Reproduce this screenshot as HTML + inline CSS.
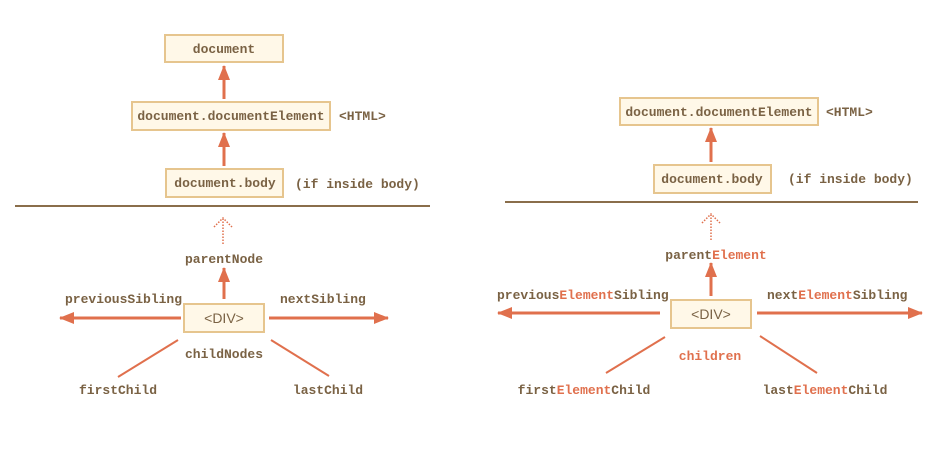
<!DOCTYPE html>
<html><head><meta charset="utf-8"><style>
html,body{margin:0;padding:0;background:#fff;}
svg text{font-family:"Liberation Mono",monospace;font-weight:bold;font-size:13px;fill:#7a6244;}
.o{fill:#e0704d;}
.s{font-family:"Liberation Sans",sans-serif;font-weight:normal;font-size:14px;}
</style></head><body>
<svg width="948" height="447" viewBox="0 0 948 447" xmlns="http://www.w3.org/2000/svg">
<defs>
<marker id="a" markerWidth="15" markerHeight="12" refX="14" refY="6" orient="auto" markerUnits="userSpaceOnUse"><path d="M0,0 L15,6 L0,12 z" fill="#e0704d"/></marker>
</defs>
<g fill="#fff8e8" stroke="#e6c58e" stroke-width="2">
<rect x="165" y="35" width="118" height="27"/>
<rect x="132" y="102" width="198" height="28"/>
<rect x="166" y="169" width="117" height="28"/>
<rect x="184" y="304" width="80" height="28"/>
<rect x="620" y="98" width="198" height="27"/>
<rect x="654" y="165" width="117" height="28"/>
<rect x="671" y="300" width="80" height="28"/>
</g>
<g stroke="#e0704d" stroke-width="3" fill="none">
<line x1="224" y1="99" x2="224" y2="66" marker-end="url(#a)"/>
<line x1="224" y1="166" x2="224" y2="133" marker-end="url(#a)"/>
<line x1="224" y1="299" x2="224" y2="268" marker-end="url(#a)"/>
<line x1="181" y1="318" x2="60" y2="318" marker-end="url(#a)"/>
<line x1="269" y1="318" x2="388" y2="318" marker-end="url(#a)"/>
<line x1="711" y1="162" x2="711" y2="128" marker-end="url(#a)"/>
<line x1="711" y1="296" x2="711" y2="263" marker-end="url(#a)"/>
<line x1="660" y1="313" x2="498" y2="313" marker-end="url(#a)"/>
<line x1="757" y1="313" x2="922" y2="313" marker-end="url(#a)"/>
</g>
<g stroke="#e0704d" stroke-width="2">
<line x1="178" y1="340" x2="118" y2="377"/>
<line x1="271" y1="340" x2="329" y2="376"/>
<line x1="665" y1="337" x2="606" y2="373"/>
<line x1="760" y1="336" x2="817" y2="373"/>
</g>
<g stroke="#e0704d" stroke-width="1.5" stroke-dasharray="1.5,1.5" fill="none">
<line x1="223" y1="244" x2="223" y2="219"/>
<polyline points="214,227 223,218 232,227"/>
<line x1="711" y1="240" x2="711" y2="215"/>
<polyline points="702,223 711,214 720,223"/>
</g>
<g stroke="#8a6e4b" stroke-width="2">
<line x1="15" y1="206" x2="430" y2="206"/>
<line x1="505" y1="202" x2="918" y2="202"/>
</g>
<text x="224" y="53" text-anchor="middle">document</text>
<text x="231" y="120" text-anchor="middle">document.documentElement</text>
<text x="339" y="120">&lt;HTML&gt;</text>
<text x="225" y="187" text-anchor="middle">document.body</text>
<text x="295" y="188">(if inside body)</text>
<text x="224" y="263" text-anchor="middle">parentNode</text>
<text x="65" y="303">previousSibling</text>
<text x="280" y="303">nextSibling</text>
<text class="s" x="224" y="323" text-anchor="middle">&lt;DIV&gt;</text>
<text x="224" y="358" text-anchor="middle">childNodes</text>
<text x="118" y="394" text-anchor="middle">firstChild</text>
<text x="328" y="394" text-anchor="middle">lastChild</text>
<text x="719" y="116" text-anchor="middle">document.documentElement</text>
<text x="826" y="116">&lt;HTML&gt;</text>
<text x="712" y="183" text-anchor="middle">document.body</text>
<text x="788" y="183">(if inside body)</text>
<text x="716" y="259" text-anchor="middle">parent<tspan class="o">Element</tspan></text>
<text x="497" y="299">previous<tspan class="o">Element</tspan>Sibling</text>
<text x="767" y="299">next<tspan class="o">Element</tspan>Sibling</text>
<text class="s" x="711" y="319" text-anchor="middle">&lt;DIV&gt;</text>
<text class="o" x="710" y="360" text-anchor="middle">children</text>
<text x="584" y="394" text-anchor="middle">first<tspan class="o">Element</tspan>Child</text>
<text x="825" y="394" text-anchor="middle">last<tspan class="o">Element</tspan>Child</text>
</svg>
</body></html>
